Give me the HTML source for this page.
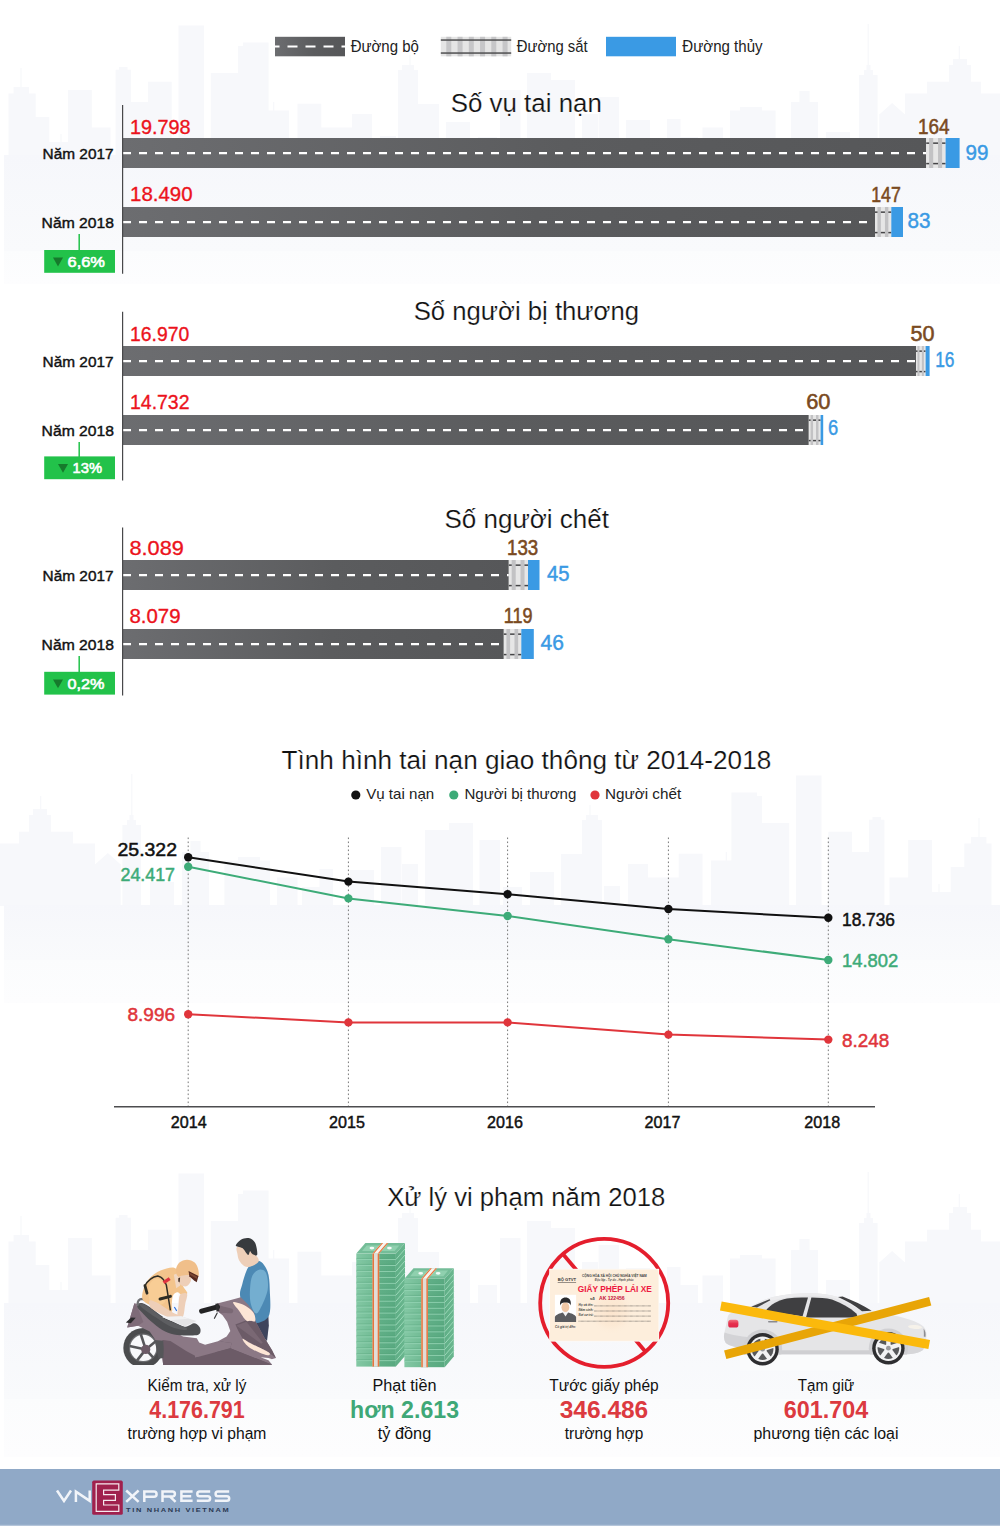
<!DOCTYPE html>
<html lang="vi"><head><meta charset="utf-8"><title>Tai nạn giao thông 2018</title>
<style>
html,body{margin:0;padding:0;background:#fff;}
body{width:1000px;height:1526px;overflow:hidden;font-family:"Liberation Sans",sans-serif;}
svg{display:block;font-family:"Liberation Sans",sans-serif;}
</style></head><body>
<svg width="1000" height="1526" viewBox="0 0 1000 1526">
<defs>
<linearGradient id="pg" x1="0" y1="0" x2="0" y2="1">
<stop offset="0" stop-color="#ffffff"/><stop offset="0.35" stop-color="#f8f9fb"/><stop offset="0.8" stop-color="#fafbfc"/><stop offset="1" stop-color="#ffffff"/>
</linearGradient>
<linearGradient id="rg" x1="0" y1="0" x2="1" y2="0">
<stop offset="0" stop-color="#6c6d70"/><stop offset="0.55" stop-color="#5b5c5e"/><stop offset="1" stop-color="#565759"/>
</linearGradient>
<pattern id="rail" width="9.1" height="30" patternUnits="userSpaceOnUse" x="0" y="0">
<rect width="9.1" height="30" fill="#e6e6e6"/>
<rect x="0" y="4.4" width="9.1" height="1.5" fill="#454547"/>
<rect x="0" y="24.85" width="9.1" height="1.5" fill="#454547"/>
<rect x="3.15" y="0" width="3.85" height="30" fill="#c2c2c4"/>
</pattern>
</defs>
<defs><g id="sky"><path d="M8.5,1304.0V1241.6H35.7V1304.0ZM13.6,1242.1V1235H29V1242.1ZM20.4,1242.6V1216H21.6V1242.6ZM35.7,1304.0V1265H49.3V1304.0ZM49.3,1304.0V1290H68V1304.0ZM60.4,1291V1282H61.6V1291ZM68,1304.0V1238H91.8V1304.0ZM91.8,1304.0V1275.6H110.5V1304.0ZM115.6,1304.0V1217.8H131V1304.0ZM119,1218.3V1215H127.5V1218.3ZM131,1304.0V1250H148V1304.0ZM148,1304.0V1229.7H171.7V1304.0ZM178.5,1304.0V1173.6H204V1304.0ZM210.8,1304.0V1221H238V1304.0ZM238,1304.0V1194H268.6V1304.0ZM243,1194.5V1190.6H268.6V1194.5ZM268.6,1304.0V1258.6H289V1304.0ZM273.09999999999997,1259.6V1250H274.3V1259.6ZM297.5,1304.0V1251.8H321.3V1304.0ZM321.3,1304.0V1275.6H352V1304.0ZM352,1304.0V1262H372V1304.0ZM380,1304.0V1284H396V1304.0ZM398,1304.0V1218H418V1304.0ZM402,1218.5V1213H414V1218.5ZM409.4,1219V1203H410.6V1219ZM418,1304.0V1252H439V1304.0ZM446,1304.0V1270H470V1304.0ZM478,1304.0V1285H497V1304.0ZM500,1304.0V1238H520.5V1304.0ZM527,1304.0V1221H551V1304.0ZM551,1304.0V1228H575V1304.0ZM582,1304.0V1262H598V1304.0ZM598.6,1304.0V1245H619V1304.0ZM626,1304.0V1268H650V1304.0ZM667,1304.0V1267H680.5V1304.0ZM680.5,1304.0V1285H698V1304.0ZM702.5,1304.0V1275.6H723V1304.0ZM730,1304.0V1258.6H775.6V1304.0ZM740,1259.1V1255H762V1259.1ZM791,1304.0V1250H818V1304.0ZM799.4,1250.5V1239H809.6V1250.5ZM826,1304.0V1280H850V1304.0ZM859,1304.0V1223H877.6V1304.0ZM864,1223.5V1218H873V1223.5ZM866.5,1223.5V1213H870.5V1223.5ZM867.6,1224V1172H868.8000000000001V1224ZM879.3,1304.0V1262H905V1304.0ZM879.3,1262.5L892.15,1251L905,1262.5ZM905,1304.0V1241.6H928V1304.0ZM927,1304.0V1229.7H949V1304.0ZM949,1304.0V1213H971V1304.0ZM953,1213.5V1207H967V1213.5ZM958.6999999999999,1214V1194H959.9V1214ZM971,1304.0V1229.7H981V1304.0ZM981,1304.0V1241.6H1000V1304.0Z" fill="#f7f8fb"/></g></defs>
<use href="#sky" transform="translate(0,-1148)"/>
<defs><linearGradient id="pg155a" gradientUnits="userSpaceOnUse" x1="0" y1="155" x2="0" y2="251"><stop offset="0" stop-color="#f6f7fb"/><stop offset="1" stop-color="#f9fafc"/></linearGradient><linearGradient id="pg155b" gradientUnits="userSpaceOnUse" x1="0" y1="251" x2="0" y2="284"><stop offset="0" stop-color="#fbfcfd"/><stop offset="1" stop-color="#fdfdfe"/></linearGradient></defs><rect x="4" y="155" width="996" height="96" fill="url(#pg155a)"/><rect x="4" y="251" width="996" height="33" fill="url(#pg155b)"/>
<use href="#sky" transform="translate(1000,-398) scale(-1,1)"/>
<defs><linearGradient id="pg905a" gradientUnits="userSpaceOnUse" x1="0" y1="905" x2="0" y2="960"><stop offset="0" stop-color="#f6f7fb"/><stop offset="1" stop-color="#f9fafc"/></linearGradient><linearGradient id="pg905b" gradientUnits="userSpaceOnUse" x1="0" y1="960" x2="0" y2="1003"><stop offset="0" stop-color="#fbfcfd"/><stop offset="1" stop-color="#fdfdfe"/></linearGradient></defs><rect x="4" y="905" width="996" height="55" fill="url(#pg905a)"/><rect x="4" y="960" width="996" height="43" fill="url(#pg905b)"/>
<use href="#sky"/>
<defs><linearGradient id="pg1303a" gradientUnits="userSpaceOnUse" x1="0" y1="1303" x2="0" y2="1399"><stop offset="0" stop-color="#f6f7fb"/><stop offset="1" stop-color="#f9fafc"/></linearGradient><linearGradient id="pg1303b" gradientUnits="userSpaceOnUse" x1="0" y1="1399" x2="0" y2="1457"><stop offset="0" stop-color="#fbfcfd"/><stop offset="1" stop-color="#fdfdfe"/></linearGradient></defs><rect x="4" y="1303" width="996" height="96" fill="url(#pg1303a)"/><rect x="4" y="1399" width="996" height="58" fill="url(#pg1303b)"/>
<rect x="275" y="36.8" width="70" height="19.5" fill="url(#rg)"/>
<line x1="275" y1="46.5" x2="345" y2="46.5" stroke="#fff" stroke-width="2" stroke-dasharray="10 8" stroke-dashoffset="5.5"/>
<rect x="440.8" y="36.8" width="70.4" height="19.5" fill="#e5e5e5"/>
<rect x="446.30" y="36.8" width="5" height="19.5" fill="#c6c6c8"/>
<rect x="457.55" y="36.8" width="5" height="19.5" fill="#c6c6c8"/>
<rect x="468.80" y="36.8" width="5" height="19.5" fill="#c6c6c8"/>
<rect x="480.05" y="36.8" width="5" height="19.5" fill="#c6c6c8"/>
<rect x="491.30" y="36.8" width="5" height="19.5" fill="#c6c6c8"/>
<rect x="502.55" y="36.8" width="5" height="19.5" fill="#c6c6c8"/>
<rect x="440.8" y="39.3" width="70.4" height="1.5" fill="#505052"/>
<rect x="440.8" y="52.3" width="70.4" height="1.5" fill="#505052"/>
<rect x="606" y="36.8" width="70" height="19.5" fill="#3a9ae4"/>
<text x="350.7" y="52" font-size="15.7" fill="#222" textLength="68.2" lengthAdjust="spacingAndGlyphs">Đường bộ</text>
<text x="516.8" y="52" font-size="15.7" fill="#222" textLength="70.9" lengthAdjust="spacingAndGlyphs">Đường sắt</text>
<text x="682.3" y="52" font-size="15.7" fill="#222" textLength="80.3" lengthAdjust="spacingAndGlyphs">Đường thủy</text>
<text x="450.7" y="112.3" font-size="25" fill="#111" textLength="151.2" lengthAdjust="spacingAndGlyphs" stroke="#fcfcfd" stroke-width="0.2">Số vụ tai nạn</text>
<rect x="122.6" y="138" width="803.6" height="30" fill="url(#rg)"/>
<line x1="123" y1="153.2" x2="926.2" y2="153.2" stroke="#fff" stroke-width="2.2" stroke-dasharray="8 8"/>
<rect x="926.2" y="138" width="19.4" height="30" fill="#e6e6e6"/>
<rect x="926.2" y="142.4" width="19.4" height="1.5" fill="#454547"/>
<rect x="926.2" y="162.85" width="19.4" height="1.5" fill="#454547"/>
<rect x="929.11" y="138" width="4.07" height="30" fill="#c2c2c4"/>
<rect x="938.03" y="138" width="4.07" height="30" fill="#c2c2c4"/>
<rect x="945.6" y="138" width="14.0" height="30" fill="#3a9ae4"/>
<text x="42.6" y="159.4" font-size="14.7" fill="#111" textLength="71" lengthAdjust="spacingAndGlyphs" stroke="#111" stroke-width="0.4">Năm 2017</text>
<text x="130" y="133.5" font-size="20.8" fill="#ec131c" textLength="60.6" lengthAdjust="spacingAndGlyphs" stroke="#ec131c" stroke-width="0.35">19.798</text>
<text x="918" y="133.8" font-size="21.6" fill="#7a4a21" textLength="31.6" lengthAdjust="spacingAndGlyphs" stroke="#7a4a21" stroke-width="0.55">164</text>
<text x="965.5" y="160" font-size="21.4" fill="#3a9ae4" textLength="22.9" lengthAdjust="spacingAndGlyphs" stroke="#3a9ae4" stroke-width="0.45">99</text>
<rect x="122.6" y="207" width="752.4" height="30" fill="url(#rg)"/>
<line x1="123" y1="222.2" x2="875.0" y2="222.2" stroke="#fff" stroke-width="2.2" stroke-dasharray="8 8"/>
<rect x="875" y="207" width="16.3" height="30" fill="#e6e6e6"/>
<rect x="875" y="211.4" width="16.3" height="1.5" fill="#454547"/>
<rect x="875" y="231.85" width="16.3" height="1.5" fill="#454547"/>
<rect x="877.45" y="207" width="3.42" height="30" fill="#c2c2c4"/>
<rect x="884.94" y="207" width="3.42" height="30" fill="#c2c2c4"/>
<rect x="891.3" y="207" width="11.700000000000045" height="30" fill="#3a9ae4"/>
<text x="41.6" y="228.4" font-size="14.7" fill="#111" textLength="72.4" lengthAdjust="spacingAndGlyphs" stroke="#111" stroke-width="0.4">Năm 2018</text>
<text x="130" y="201.4" font-size="20.8" fill="#ec131c" textLength="62.6" lengthAdjust="spacingAndGlyphs" stroke="#ec131c" stroke-width="0.35">18.490</text>
<text x="871.2" y="201.8" font-size="21.6" fill="#7a4a21" textLength="29.6" lengthAdjust="spacingAndGlyphs" stroke="#7a4a21" stroke-width="0.55">147</text>
<text x="907.5" y="228.2" font-size="21.4" fill="#3a9ae4" textLength="23.0" lengthAdjust="spacingAndGlyphs" stroke="#3a9ae4" stroke-width="0.45">83</text>
<line x1="122.6" y1="105" x2="122.6" y2="273.7" stroke="#48484a" stroke-width="1.2"/>
<line x1="79.2" y1="234" x2="79.2" y2="251" stroke="#22c24a" stroke-width="1.5"/>
<rect x="44.2" y="250" width="70.8" height="22.8" fill="#22c24a"/>
<path d="M53.0,257.6 h10 l-5,8.8z" fill="#167a2c"/>
<text x="67.5" y="267" font-size="15.2" fill="#fff" textLength="37.5" lengthAdjust="spacingAndGlyphs" stroke="#fff" stroke-width="0.6">6,6%</text>
<text x="413.7" y="320" font-size="25" fill="#111" textLength="225.3" lengthAdjust="spacingAndGlyphs" stroke="#fcfcfd" stroke-width="0.2">Số người bị thương</text>
<rect x="122.6" y="346" width="793.4" height="30" fill="url(#rg)"/>
<line x1="123" y1="361.2" x2="916.0" y2="361.2" stroke="#fff" stroke-width="2.2" stroke-dasharray="8 8"/>
<rect x="916" y="346" width="9.6" height="30" fill="#e6e6e6"/>
<rect x="916" y="350.4" width="9.6" height="1.5" fill="#454547"/>
<rect x="916" y="370.85" width="9.6" height="1.5" fill="#454547"/>
<rect x="917.44" y="346" width="2.02" height="30" fill="#c2c2c4"/>
<rect x="921.86" y="346" width="2.02" height="30" fill="#c2c2c4"/>
<rect x="925.6" y="346" width="4.0" height="30" fill="#3a9ae4"/>
<text x="42.6" y="367.4" font-size="14.7" fill="#111" textLength="71" lengthAdjust="spacingAndGlyphs" stroke="#111" stroke-width="0.4">Năm 2017</text>
<text x="130" y="340.6" font-size="20.8" fill="#ec131c" textLength="59.2" lengthAdjust="spacingAndGlyphs" stroke="#ec131c" stroke-width="0.35">16.970</text>
<text x="910.5" y="340.6" font-size="21.6" fill="#7a4a21" textLength="24.0" lengthAdjust="spacingAndGlyphs" stroke="#7a4a21" stroke-width="0.55">50</text>
<text x="935.2" y="366.5" font-size="21.4" fill="#3a9ae4" textLength="19.3" lengthAdjust="spacingAndGlyphs" stroke="#3a9ae4" stroke-width="0.45">16</text>
<rect x="122.6" y="415" width="686.1999999999999" height="30" fill="url(#rg)"/>
<line x1="123" y1="430.2" x2="808.8" y2="430.2" stroke="#fff" stroke-width="2.2" stroke-dasharray="8 8"/>
<rect x="808.8" y="415" width="11.8" height="30" fill="#e6e6e6"/>
<rect x="808.8" y="419.4" width="11.8" height="1.5" fill="#454547"/>
<rect x="808.8" y="439.85" width="11.8" height="1.5" fill="#454547"/>
<rect x="810.57" y="415" width="2.48" height="30" fill="#c2c2c4"/>
<rect x="816.0" y="415" width="2.48" height="30" fill="#c2c2c4"/>
<rect x="820.6" y="415" width="2.6000000000000227" height="30" fill="#3a9ae4"/>
<text x="41.6" y="436.4" font-size="14.7" fill="#111" textLength="72.4" lengthAdjust="spacingAndGlyphs" stroke="#111" stroke-width="0.4">Năm 2018</text>
<text x="130" y="408.9" font-size="20.8" fill="#ec131c" textLength="59.5" lengthAdjust="spacingAndGlyphs" stroke="#ec131c" stroke-width="0.35">14.732</text>
<text x="806.2" y="408.9" font-size="21.6" fill="#7a4a21" textLength="24.3" lengthAdjust="spacingAndGlyphs" stroke="#7a4a21" stroke-width="0.55">60</text>
<text x="828" y="435.2" font-size="21.4" fill="#3a9ae4" textLength="10.2" lengthAdjust="spacingAndGlyphs" stroke="#3a9ae4" stroke-width="0.45">6</text>
<line x1="122.6" y1="311.8" x2="122.6" y2="480.5" stroke="#48484a" stroke-width="1.2"/>
<line x1="79.2" y1="442" x2="79.2" y2="457.4" stroke="#22c24a" stroke-width="1.5"/>
<rect x="44.2" y="456.4" width="70.8" height="22.8" fill="#22c24a"/>
<path d="M58.0,464.0 h10 l-5,8.8z" fill="#167a2c"/>
<text x="72.5" y="473.4" font-size="15.2" fill="#fff" textLength="29.5" lengthAdjust="spacingAndGlyphs" stroke="#fff" stroke-width="0.6">13%</text>
<text x="444.5" y="528" font-size="25" fill="#111" textLength="164.5" lengthAdjust="spacingAndGlyphs" stroke="#fcfcfd" stroke-width="0.2">Số người chết</text>
<rect x="122.6" y="560" width="386.20000000000005" height="30" fill="url(#rg)"/>
<line x1="123" y1="575.2" x2="508.80000000000007" y2="575.2" stroke="#fff" stroke-width="2.2" stroke-dasharray="8 8"/>
<rect x="508.8" y="560" width="19.2" height="30" fill="#e6e6e6"/>
<rect x="508.8" y="564.4" width="19.2" height="1.5" fill="#454547"/>
<rect x="508.8" y="584.85" width="19.2" height="1.5" fill="#454547"/>
<rect x="511.68" y="560" width="4.03" height="30" fill="#c2c2c4"/>
<rect x="520.51" y="560" width="4.03" height="30" fill="#c2c2c4"/>
<rect x="528" y="560" width="11.5" height="30" fill="#3a9ae4"/>
<text x="42.6" y="581.4" font-size="14.7" fill="#111" textLength="71" lengthAdjust="spacingAndGlyphs" stroke="#111" stroke-width="0.4">Năm 2017</text>
<text x="129.5" y="555.1" font-size="20.8" fill="#ec131c" textLength="54.3" lengthAdjust="spacingAndGlyphs" stroke="#ec131c" stroke-width="0.35">8.089</text>
<text x="507" y="555.1" font-size="21.6" fill="#7a4a21" textLength="31.2" lengthAdjust="spacingAndGlyphs" stroke="#7a4a21" stroke-width="0.55">133</text>
<text x="547" y="581.4" font-size="21.4" fill="#3a9ae4" textLength="22.5" lengthAdjust="spacingAndGlyphs" stroke="#3a9ae4" stroke-width="0.45">45</text>
<rect x="122.6" y="629" width="381.20000000000005" height="30" fill="url(#rg)"/>
<line x1="123" y1="644.2" x2="503.80000000000007" y2="644.2" stroke="#fff" stroke-width="2.2" stroke-dasharray="8 8"/>
<rect x="503.8" y="629" width="17.5" height="30" fill="#e6e6e6"/>
<rect x="503.8" y="633.4" width="17.5" height="1.5" fill="#454547"/>
<rect x="503.8" y="653.85" width="17.5" height="1.5" fill="#454547"/>
<rect x="506.43" y="629" width="3.67" height="30" fill="#c2c2c4"/>
<rect x="514.48" y="629" width="3.67" height="30" fill="#c2c2c4"/>
<rect x="521.3" y="629" width="12.5" height="30" fill="#3a9ae4"/>
<text x="41.6" y="650.4" font-size="14.7" fill="#111" textLength="72.4" lengthAdjust="spacingAndGlyphs" stroke="#111" stroke-width="0.4">Năm 2018</text>
<text x="129.5" y="622.7" font-size="20.8" fill="#ec131c" textLength="51.0" lengthAdjust="spacingAndGlyphs" stroke="#ec131c" stroke-width="0.35">8.079</text>
<text x="503.8" y="623.3" font-size="21.6" fill="#7a4a21" textLength="28.7" lengthAdjust="spacingAndGlyphs" stroke="#7a4a21" stroke-width="0.55">119</text>
<text x="540.5" y="650.2" font-size="21.4" fill="#3a9ae4" textLength="23.3" lengthAdjust="spacingAndGlyphs" stroke="#3a9ae4" stroke-width="0.45">46</text>
<line x1="122.6" y1="527.5" x2="122.6" y2="695.5" stroke="#48484a" stroke-width="1.2"/>
<line x1="79.2" y1="656" x2="79.2" y2="672.8" stroke="#22c24a" stroke-width="1.5"/>
<rect x="44.2" y="671.8" width="70.8" height="22.8" fill="#22c24a"/>
<path d="M53.0,679.4 h10 l-5,8.8z" fill="#167a2c"/>
<text x="67.5" y="688.8" font-size="15.2" fill="#fff" textLength="37.0" lengthAdjust="spacingAndGlyphs" stroke="#fff" stroke-width="0.6">0,2%</text>
<text x="281.6" y="768.7" font-size="25" fill="#111" textLength="489.6" lengthAdjust="spacingAndGlyphs" stroke="#fcfcfd" stroke-width="0.2">Tình hình tai nạn giao thông từ 2014-2018</text>
<circle cx="355.8" cy="795" r="4.6" fill="#111"/>
<text x="366.2" y="798.8" font-size="14.8" fill="#222" textLength="68" lengthAdjust="spacingAndGlyphs">Vụ tai nạn</text>
<circle cx="453.8" cy="795" r="4.6" fill="#3dab78"/>
<text x="464.5" y="798.8" font-size="14.8" fill="#222" textLength="111.8" lengthAdjust="spacingAndGlyphs">Người bị thương</text>
<circle cx="595" cy="795" r="4.6" fill="#e0353b"/>
<text x="605" y="798.8" font-size="14.8" fill="#222" textLength="76.2" lengthAdjust="spacingAndGlyphs">Người chết</text>
<line x1="188.2" y1="837.5" x2="188.2" y2="1106" stroke="#777" stroke-width="1" stroke-dasharray="1.6 2.4"/>
<line x1="348.4" y1="837.5" x2="348.4" y2="1106" stroke="#777" stroke-width="1" stroke-dasharray="1.6 2.4"/>
<line x1="507.6" y1="837.5" x2="507.6" y2="1106" stroke="#777" stroke-width="1" stroke-dasharray="1.6 2.4"/>
<line x1="668.4" y1="837.5" x2="668.4" y2="1106" stroke="#777" stroke-width="1" stroke-dasharray="1.6 2.4"/>
<line x1="828.3" y1="837.5" x2="828.3" y2="1106" stroke="#777" stroke-width="1" stroke-dasharray="1.6 2.4"/>
<line x1="114" y1="1106.8" x2="875" y2="1106.8" stroke="#4d4d4f" stroke-width="1.5"/>
<polyline points="188.2,857.2 348.4,881.6 507.6,894.2 668.4,909 828.3,917.8" fill="none" stroke="#111" stroke-width="2"/>
<circle cx="188.2" cy="857.2" r="4.2" fill="#111"/>
<circle cx="348.4" cy="881.6" r="4.2" fill="#111"/>
<circle cx="507.6" cy="894.2" r="4.2" fill="#111"/>
<circle cx="668.4" cy="909" r="4.2" fill="#111"/>
<circle cx="828.3" cy="917.8" r="4.2" fill="#111"/>
<polyline points="188.2,866.8 348.4,898.4 507.6,916 668.4,939.2 828.3,960" fill="none" stroke="#3dab78" stroke-width="2"/>
<circle cx="188.2" cy="866.8" r="4.2" fill="#3dab78"/>
<circle cx="348.4" cy="898.4" r="4.2" fill="#3dab78"/>
<circle cx="507.6" cy="916" r="4.2" fill="#3dab78"/>
<circle cx="668.4" cy="939.2" r="4.2" fill="#3dab78"/>
<circle cx="828.3" cy="960" r="4.2" fill="#3dab78"/>
<polyline points="188.2,1014.2 348.4,1022.4 507.6,1022.4 668.4,1034.6 828.3,1039.6" fill="none" stroke="#e0353b" stroke-width="2"/>
<circle cx="188.2" cy="1014.2" r="4.2" fill="#e0353b"/>
<circle cx="348.4" cy="1022.4" r="4.2" fill="#e0353b"/>
<circle cx="507.6" cy="1022.4" r="4.2" fill="#e0353b"/>
<circle cx="668.4" cy="1034.6" r="4.2" fill="#e0353b"/>
<circle cx="828.3" cy="1039.6" r="4.2" fill="#e0353b"/>
<text x="188.7" y="1127.8" font-size="16" fill="#111" text-anchor="middle" textLength="35.8" lengthAdjust="spacingAndGlyphs" stroke="#111" stroke-width="0.45">2014</text>
<text x="347" y="1127.8" font-size="16" fill="#111" text-anchor="middle" textLength="35.8" lengthAdjust="spacingAndGlyphs" stroke="#111" stroke-width="0.45">2015</text>
<text x="505" y="1127.8" font-size="16" fill="#111" text-anchor="middle" textLength="35.8" lengthAdjust="spacingAndGlyphs" stroke="#111" stroke-width="0.45">2016</text>
<text x="662.5" y="1127.8" font-size="16" fill="#111" text-anchor="middle" textLength="35.8" lengthAdjust="spacingAndGlyphs" stroke="#111" stroke-width="0.45">2017</text>
<text x="822.2" y="1127.8" font-size="16" fill="#111" text-anchor="middle" textLength="35.8" lengthAdjust="spacingAndGlyphs" stroke="#111" stroke-width="0.45">2018</text>
<text x="117.5" y="855.6" font-size="18.5" fill="#111" textLength="59.5" lengthAdjust="spacingAndGlyphs" stroke="#111" stroke-width="0.5">25.322</text>
<text x="120.5" y="881.2" font-size="18.5" fill="#3dab78" textLength="54.5" lengthAdjust="spacingAndGlyphs" stroke="#3dab78" stroke-width="0.5">24.417</text>
<text x="127.5" y="1020.8" font-size="18.5" fill="#e0353b" textLength="47.5" lengthAdjust="spacingAndGlyphs" stroke="#e0353b" stroke-width="0.5">8.996</text>
<text x="842" y="925.6" font-size="18.5" fill="#111" textLength="53" lengthAdjust="spacingAndGlyphs" stroke="#111" stroke-width="0.5">18.736</text>
<text x="842" y="967.4" font-size="18.5" fill="#3dab78" textLength="56.2" lengthAdjust="spacingAndGlyphs" stroke="#3dab78" stroke-width="0.5">14.802</text>
<text x="842" y="1047" font-size="18.5" fill="#e0353b" textLength="47.2" lengthAdjust="spacingAndGlyphs" stroke="#e0353b" stroke-width="0.5">8.248</text>
<text x="387.2" y="1206" font-size="25" fill="#111" textLength="278" lengthAdjust="spacingAndGlyphs" stroke="#fcfcfd" stroke-width="0.2">Xử lý vi phạm năm 2018</text>
<text x="197" y="1390.6" font-size="15.8" fill="#111" text-anchor="middle" textLength="98.8" lengthAdjust="spacingAndGlyphs">Kiểm tra, xử lý</text>
<text x="197" y="1418.3" font-size="23.4" fill="#dc3a40" text-anchor="middle" font-weight="bold" textLength="95.5" lengthAdjust="spacingAndGlyphs">4.176.791</text>
<text x="197" y="1438.8" font-size="15.8" fill="#111" text-anchor="middle" textLength="138.8" lengthAdjust="spacingAndGlyphs">trường hợp vi phạm</text>
<text x="404.5" y="1390.6" font-size="15.8" fill="#111" text-anchor="middle" textLength="64" lengthAdjust="spacingAndGlyphs">Phạt tiền</text>
<text x="404.5" y="1418.3" font-size="23.4" fill="#3fa877" text-anchor="middle" font-weight="bold" textLength="109" lengthAdjust="spacingAndGlyphs">hơn 2.613</text>
<text x="404.5" y="1438.8" font-size="15.8" fill="#111" text-anchor="middle" textLength="53.5" lengthAdjust="spacingAndGlyphs">tỷ đồng</text>
<text x="604" y="1390.6" font-size="15.8" fill="#111" text-anchor="middle" textLength="109.5" lengthAdjust="spacingAndGlyphs">Tước giấy phép</text>
<text x="604" y="1418.3" font-size="23.4" fill="#dc3a40" text-anchor="middle" font-weight="bold" textLength="88.5" lengthAdjust="spacingAndGlyphs">346.486</text>
<text x="604" y="1438.8" font-size="15.8" fill="#111" text-anchor="middle" textLength="78.5" lengthAdjust="spacingAndGlyphs">trường hợp</text>
<text x="826" y="1390.6" font-size="15.8" fill="#111" text-anchor="middle" textLength="56.5" lengthAdjust="spacingAndGlyphs">Tạm giữ</text>
<text x="826" y="1418.3" font-size="23.4" fill="#dc3a40" text-anchor="middle" font-weight="bold" textLength="84.5" lengthAdjust="spacingAndGlyphs">601.704</text>
<text x="826" y="1438.8" font-size="15.8" fill="#111" text-anchor="middle" textLength="145" lengthAdjust="spacingAndGlyphs">phương tiện các loại</text>
<g id="bike"><defs><clipPath id="bclip"><rect x="100" y="1220" width="200" height="144.9"/></clipPath></defs><g clip-path="url(#bclip)">
<path d="M249.13,1320.83 L268.39,1316.24 L268.85,1325.41 L267.02,1341.01 L259.22,1333.67 L250.05,1322.66 Z" fill="#3e445c" />
<path d="M248.67,1266.7 C251.50,1262.85 256.09,1260.25 259.22,1261.01 C262.36,1261.77 265.72,1266.51 267.48,1271.28 C269.24,1276.05 269.62,1282.06 269.77,1289.63 C269.92,1297.20 271.68,1311.35 268.39,1316.7 C265.10,1322.05 254.71,1324.88 250.05,1321.74 C245.39,1318.61 241.71,1304.16 240.41,1297.89 C239.11,1291.62 240.87,1289.33 242.25,1284.13 C243.63,1278.93 245.84,1270.55 248.67,1266.7 Z" fill="#4c89b4" />
<path d="M252.34,1275.87 C253.87,1272.69 256.93,1270.09 259.22,1269.63 C261.51,1269.17 264.69,1269.79 266.1,1273.12 C267.51,1276.45 268.65,1283.67 267.66,1289.63 C266.67,1295.59 262.24,1305.00 260.14,1308.9 C258.04,1312.80 256.70,1314.10 255.09,1313.03 C253.48,1311.96 251.34,1306.53 250.5,1302.48 C249.66,1298.43 249.74,1293.15 250.05,1288.72 C250.36,1284.29 250.81,1279.05 252.34,1275.87 Z" fill="#74aed0" />
<path d="M236.74,1247.43 C237.63,1246.06 239.88,1244.68 242.71,1245.6 C245.54,1246.52 251.05,1250.34 253.72,1252.94 C256.39,1255.54 259.37,1258.90 258.76,1261.19 C258.15,1263.48 252.50,1265.90 250.05,1266.7 C247.60,1267.50 245.92,1267.03 244.08,1265.96 C242.25,1264.89 240.16,1262.30 239.04,1260.28 C237.92,1258.26 237.77,1255.99 237.39,1253.85 C237.01,1251.71 235.85,1248.81 236.74,1247.43 Z" fill="#eecfb8" />
<path d="M235.83,1245.14 C236.29,1243.96 238.73,1240.81 240.87,1239.63 C243.01,1238.45 246.30,1237.53 248.67,1238.07 C251.04,1238.61 253.67,1240.06 255.09,1242.84 C256.51,1245.62 257.66,1252.90 257.2,1254.77 C256.74,1256.64 253.53,1254.62 252.34,1254.04 C251.15,1253.46 250.77,1251.13 250.05,1251.28 C249.33,1251.43 249.25,1255.44 248.03,1254.95 C246.81,1254.46 244.36,1249.72 242.71,1248.35 C241.06,1246.97 239.27,1247.24 238.12,1246.7 C236.97,1246.16 235.37,1246.32 235.83,1245.14 Z" fill="#383b3e" />
<circle cx="143.22" cy="1347.92" r="19.9" fill="#4b4c4e"/>
<circle cx="143.22" cy="1347.92" r="14.299999999999999" fill="#6b6c6f"/>
<circle cx="143.22" cy="1347.92" r="13.099999999999998" fill="#f8f9fb"/>
<line x1="145.72" y1="1349.42" x2="140.81" y2="1334.23" stroke="#56575a" stroke-width="2.6"/>
<line x1="145.72" y1="1349.42" x2="155.49" y2="1341.39" stroke="#56575a" stroke-width="2.6"/>
<line x1="145.72" y1="1349.42" x2="153.22" y2="1357.58" stroke="#56575a" stroke-width="2.6"/>
<line x1="145.72" y1="1349.42" x2="137.13" y2="1360.41" stroke="#56575a" stroke-width="2.6"/>
<line x1="145.72" y1="1349.42" x2="129.46" y2="1345.99" stroke="#56575a" stroke-width="2.6"/>
<circle cx="145.72" cy="1349.42" r="4.6" fill="#6c5b67"/>
<path d="M134.4,1303.28 L138.9,1304.0 L156.0,1322.0 L183.0,1336.4 L196.83,1338.26 L199.13,1342.39 L205.09,1344.68 L217.94,1341.19 L226.65,1336.42 L230.32,1330.92 L227.11,1321.74 L222.52,1315.32 L217.48,1311.19 L217.02,1303.39 L229.86,1300.18 L240.87,1297.25 L247.75,1304.31 L254.17,1312.57 L255.73,1321.74 L264.72,1338.26 L272.06,1350.18 L275.92,1357.98 L268.39,1360.28 L272.25,1364.86 L174.0,1365.2 L163.2,1365.2 L162.3,1357.55 L156.0,1340.9 L149.7,1331.45 L138.0,1325.78 L127.2,1327.58 Z" fill="#8b7885" />
<path d="M134.4,1303.28 L137.55,1307.6 L143.4,1322.0 L138.0,1325.78 L127.2,1327.58 Z" fill="#7e6b78" />
<path d="M163.2,1340.0 L170.4,1340.9 L186.6,1351.25 L197.4,1357.1 L199.2,1359.35 L204.6,1358.45 L210.0,1363.85 L220.69,1341.47 L231.7,1343.03 L230.32,1348.17 L272.25,1364.86 L174.0,1365.2 L163.2,1365.2 L162.3,1357.55 L157.8,1343.6 Z" fill="#6c5b67" />
<path d="M220.69,1341.47 L231.7,1343.03 L230.32,1348.17 L195.0,1357.71 L195.0,1352.02 Z" fill="#8b7885" />
<path d="M195.0,1357.71 L230.32,1348.17 L272.25,1364.86 L195.0,1364.86 Z" fill="#6c5b67" />
<path d="M154.65,1340.0 L163.2,1340.72 L163.74,1349.0 L163.38,1358.0 L158.52,1358.72 L156.45,1349.0 Z" fill="#555659" />
<path d="M235.37,1324.5 L246.38,1320.37 L255.73,1321.74 L264.72,1338.26 L272.06,1350.18 L275.92,1357.98 L269.31,1352.94 L253.72,1344.68 L242.71,1338.72 L238.12,1330.46 Z" fill="#6c5b67" />
<path d="M236.28,1325.41 L246.38,1321.74 L262.89,1342.84 L261.06,1343.76 Z" fill="#7a6874" />
<path d="M233.07,1302.48 C233.38,1301.33 238.27,1302.93 240.87,1303.85 C243.47,1304.77 246.45,1306.30 248.67,1307.98 C250.89,1309.66 253.10,1311.77 254.17,1313.94 C255.24,1316.11 255.78,1319.86 255.09,1321.01 C254.40,1322.16 251.58,1320.94 250.05,1320.83 C248.52,1320.72 247.75,1322.05 245.92,1320.37 C244.08,1318.69 241.18,1313.71 239.04,1310.73 C236.90,1307.75 232.76,1303.63 233.07,1302.48 Z" fill="#fde6d6" />
<path d="M242.71,1338.72 C243.55,1338.67 246.99,1341.42 250.05,1343.03 C253.11,1344.63 257.82,1346.67 261.06,1348.35 C264.30,1350.03 268.40,1351.96 269.5,1353.12 C270.60,1354.28 269.37,1355.43 267.66,1355.32 C265.95,1355.21 262.16,1353.72 259.22,1352.48 C256.29,1351.24 252.42,1349.42 250.05,1347.89 C247.68,1346.36 246.22,1344.83 245.0,1343.3 C243.78,1341.77 241.87,1338.77 242.71,1338.72 Z" fill="#fde6d6" />
<path d="M260.6,1357.34 L268.39,1357.98 L272.98,1359.54 L268.39,1360.28 Z" fill="#fbfbfc" />
<path d="M219.04,1305.69 C219.99,1304.77 223.02,1306.45 225.28,1307.06 C227.54,1307.67 231.46,1308.36 232.61,1309.36 C233.76,1310.36 233.38,1312.42 232.16,1313.03 C230.94,1313.64 227.38,1313.11 225.28,1313.03 C223.19,1312.95 220.63,1313.79 219.59,1312.57 C218.55,1311.35 218.09,1306.61 219.04,1305.69 Z" fill="#7a6874" />
<path d="M138.0,1303.82 C138.82,1303.10 140.40,1302.65 142.5,1303.28 C144.60,1303.91 147.15,1305.30 150.6,1307.6 C154.05,1309.89 159.00,1314.50 163.2,1317.05 C167.40,1319.60 172.05,1321.30 175.8,1322.9 C179.55,1324.51 182.70,1326.61 185.7,1326.68 C188.70,1326.76 191.70,1323.53 193.8,1323.35 C195.90,1323.17 197.18,1324.47 198.3,1325.6 C199.43,1326.72 200.55,1328.57 200.55,1330.1 C200.55,1331.63 200.62,1333.88 198.3,1334.78 C195.98,1335.68 190.65,1335.53 186.6,1335.5 C182.55,1335.47 178.05,1335.50 174.0,1334.6 C169.95,1333.70 166.20,1332.35 162.3,1330.1 C158.40,1327.85 154.05,1324.10 150.6,1321.1 C147.15,1318.10 143.77,1314.35 141.6,1312.1 C139.43,1309.85 138.15,1308.98 137.55,1307.6 C136.95,1306.22 137.18,1304.54 138.0,1303.82 Z" fill="#4e4f52" />
<path d="M139.35,1304.45 C139.20,1303.55 141.53,1303.33 143.4,1304.0 C145.28,1304.67 147.30,1306.17 150.6,1308.5 C153.90,1310.83 159.00,1315.40 163.2,1317.95 C167.40,1320.50 171.98,1322.15 175.8,1323.8 C179.62,1325.45 184.65,1326.80 186.15,1327.85 C187.65,1328.90 187.43,1330.32 184.8,1330.1 C182.18,1329.88 175.20,1328.60 170.4,1326.5 C165.60,1324.40 160.35,1320.35 156.0,1317.5 C151.65,1314.65 147.08,1311.58 144.3,1309.4 C141.53,1307.23 139.50,1305.35 139.35,1304.45 Z" fill="#5d5e61" />
<path d="M137.73,1304.9 Q137.1,1299.05 142.5,1298.87 L148.35,1301.3" fill="none" stroke="#6f7073" stroke-width="2.2" stroke-linecap="round"/>
<path d="M125.85,1322.45 L131.25,1317.5 L135.75,1317.68 L130.8,1323.35 Z" fill="#2b2b2d" />
<path d="M142.5,1299.32 C141.48,1296.62 142.46,1292.15 143.58,1288.7 C144.71,1285.25 146.43,1281.65 149.25,1278.62 C152.07,1275.59 156.38,1272.35 160.5,1270.52 C164.62,1268.69 171.00,1267.01 174.0,1267.64 C177.00,1268.27 177.00,1271.24 178.5,1274.3 C180.00,1277.36 181.53,1282.88 183.0,1286.0 C184.47,1289.12 187.32,1291.34 187.32,1293.02 C187.32,1294.70 184.62,1296.20 183.0,1296.08 C181.38,1295.96 179.25,1292.40 177.6,1292.3 C175.95,1292.19 174.07,1293.50 173.1,1295.45 C172.12,1297.40 172.05,1301.22 171.75,1304.0 C171.45,1306.78 173.18,1311.20 171.3,1312.1 C169.43,1313.00 164.10,1310.60 160.5,1309.4 C156.90,1308.20 152.70,1306.58 149.7,1304.9 C146.70,1303.22 143.52,1302.02 142.5,1299.32 Z" fill="#f3c48c" />
<path d="M149.25,1286.0 C150.22,1282.40 153.23,1279.55 155.55,1278.8 C157.88,1278.05 161.32,1279.25 163.2,1281.5 C165.07,1283.75 166.65,1288.70 166.8,1292.3 C166.95,1295.90 165.90,1301.00 164.1,1303.1 C162.30,1305.20 158.40,1305.35 156.0,1304.9 C153.60,1304.45 150.82,1303.55 149.7,1300.4 C148.57,1297.25 148.28,1289.60 149.25,1286.0 Z" fill="#f8cd95" />
<path d="M173.82,1274.75 L177.6,1273.22 L180.12,1285.55 L176.25,1288.25 Z" fill="#f1d8c4" />
<path d="M149.7,1300.4 C150.75,1299.50 154.35,1301.30 157.8,1303.1 C161.25,1304.90 166.73,1309.03 170.4,1311.2 C174.07,1313.38 178.50,1314.73 179.85,1316.15 C181.20,1317.58 180.53,1319.60 178.5,1319.75 C176.47,1319.90 172.20,1318.92 167.7,1317.05 C163.20,1315.17 154.50,1311.28 151.5,1308.5 C148.50,1305.72 148.65,1301.30 149.7,1300.4 Z" fill="#eecfb8" />
<path d="M180.12,1295.0 C181.55,1293.17 186.20,1292.42 187.05,1293.92 C187.91,1295.42 185.93,1300.22 185.25,1304.0 C184.57,1307.78 184.28,1314.42 183.0,1316.6 C181.72,1318.77 178.35,1319.00 177.6,1317.05 C176.85,1315.10 178.08,1308.58 178.5,1304.9 C178.92,1301.23 178.69,1296.83 180.12,1295.0 Z" fill="#eecfb8" />
<path d="M175.98,1269.35 C176.28,1267.10 177.56,1264.20 179.4,1262.6 C181.25,1260.99 184.50,1259.72 187.05,1259.72 C189.60,1259.72 192.82,1260.92 194.7,1262.6 C196.57,1264.28 197.76,1267.40 198.3,1269.8 C198.84,1272.20 199.29,1276.10 197.94,1277.0 C196.59,1277.90 192.69,1275.20 190.2,1275.2 C187.71,1275.20 185.10,1276.85 183.0,1277.0 C180.90,1277.15 178.77,1277.38 177.6,1276.1 C176.43,1274.82 175.68,1271.60 175.98,1269.35 Z" fill="#f0bf8a" />
<path d="M178.32,1277.0 C179.44,1276.03 182.90,1275.42 184.8,1275.2 C186.71,1274.98 188.70,1274.83 189.75,1275.65 C190.80,1276.48 191.55,1278.43 191.1,1280.15 C190.65,1281.88 188.70,1285.14 187.05,1286.0 C185.40,1286.86 182.70,1286.11 181.2,1285.28 C179.70,1284.45 178.53,1282.43 178.05,1281.05 C177.57,1279.67 177.19,1277.97 178.32,1277.0 Z" fill="#eecfb8" />
<path d="M178.32,1278.35 L180.12,1277.45 L179.58,1282.4 L178.32,1281.5 Z" fill="#3a2a22" />
<path d="M188.58,1270.88 L198.48,1275.92 L196.68,1282.22 L193.8,1280.15 L189.3,1276.28 Z" fill="#55281e" />
<path d="M189.3,1272.5 L197.4,1276.64 L196.68,1278.8 L189.75,1274.75 Z" fill="#7a4632" />
<path d="M144.75,1286.0 Q149.7,1277.0 157.8,1275.92 Q164.1,1277.45 166.35,1285.1 L170.4,1310.3" fill="none" stroke="#2e2d25" stroke-width="1.5"/>
<line x1="160.05" y1="1299.05" x2="170.4" y2="1296.35" stroke="#2e2d25" stroke-width="3" stroke-linecap="round"/>
<line x1="144.93" y1="1285.55" x2="147.0" y2="1293.2" stroke="#2e2d25" stroke-width="2.8" stroke-linecap="round"/>
<line x1="163.56" y1="1282.58" x2="169.68" y2="1278.62" stroke="#df3340" stroke-width="3.4"/>
<line x1="174.36" y1="1307.06" x2="176.7" y2="1310.84" stroke="#2a6fe0" stroke-width="1.1"/>
<path d="M162.3,1317.05 L181.2,1316.15 L196.5,1321.1 L184.8,1326.5 Z" fill="#e4e4e6" />
<path d="M162.3,1317.05 L181.2,1316.15 L188.4,1318.85 L170.4,1320.2 Z" fill="#f1f1f2" />
<line x1="201.61" y1="1311.19" x2="217.48" y2="1306.88" stroke="#232324" stroke-width="5" stroke-linecap="round"/>
<path d="M215.37,1303.85 L218.39,1303.39 L219.31,1310.73 L216.56,1311.65 Z" fill="#2c2c2e" />
<line x1="217.2" y1="1313.03" x2="214.45" y2="1318.26" stroke="#3a3a3c" stroke-width="1.2" stroke-linecap="round"/>
</g></g>
<g id="money">
<defs><linearGradient id="mfa" x1="0" y1="0" x2="1" y2="0"><stop offset="0" stop-color="#83c8a4"/><stop offset="0.38" stop-color="#74bd97"/><stop offset="0.5" stop-color="#62b088"/><stop offset="1" stop-color="#58a980"/></linearGradient><linearGradient id="msa" x1="0" y1="0" x2="1" y2="0"><stop offset="0" stop-color="#5fae86"/><stop offset="1" stop-color="#6ab78f"/></linearGradient></defs><path d="M395.9,1253.6 L405.0,1243.0 L405.0,1356.0 L395.9,1366.6 Z" fill="url(#msa)"/><rect x="356.3" y="1253.6" width="39.599999999999966" height="113.0" fill="url(#mfa)"/><path d="M356.3,1259.55H395.9M356.3,1265.49H395.9M356.3,1271.44H395.9M356.3,1277.39H395.9M356.3,1283.34H395.9M356.3,1289.28H395.9M356.3,1295.23H395.9M356.3,1301.18H395.9M356.3,1307.13H395.9M356.3,1313.07H395.9M356.3,1319.02H395.9M356.3,1324.97H395.9M356.3,1330.92H395.9M356.3,1336.86H395.9M356.3,1342.81H395.9M356.3,1348.76H395.9M356.3,1354.71H395.9M356.3,1360.65H395.9" stroke="#93d3b2" stroke-width="0.9" fill="none"/><path d="M356.3,1258.45H395.9M356.3,1264.39H395.9M356.3,1270.34H395.9M356.3,1276.29H395.9M356.3,1282.24H395.9M356.3,1288.18H395.9M356.3,1294.13H395.9M356.3,1300.08H395.9M356.3,1306.03H395.9M356.3,1311.97H395.9M356.3,1317.92H395.9M356.3,1323.87H395.9M356.3,1329.82H395.9M356.3,1335.76H395.9M356.3,1341.71H395.9M356.3,1347.66H395.9M356.3,1353.61H395.9M356.3,1359.55H395.9" stroke="#4f9f77" stroke-width="0.7" fill="none" opacity="0.45"/><path d="M395.9,1259.55L405.0,1248.95M395.9,1265.49L405.0,1254.89M395.9,1271.44L405.0,1260.84M395.9,1277.39L405.0,1266.79M395.9,1283.34L405.0,1272.74M395.9,1289.28L405.0,1278.68M395.9,1295.23L405.0,1284.63M395.9,1301.18L405.0,1290.58M395.9,1307.13L405.0,1296.53M395.9,1313.07L405.0,1302.47M395.9,1319.02L405.0,1308.42M395.9,1324.97L405.0,1314.37M395.9,1330.92L405.0,1320.32M395.9,1336.86L405.0,1326.26M395.9,1342.81L405.0,1332.21M395.9,1348.76L405.0,1338.16M395.9,1354.71L405.0,1344.11M395.9,1360.65L405.0,1350.05" stroke="#9ad8b8" stroke-width="1" fill="none"/><path d="M356.3,1253.6 L395.9,1253.6 L405.0,1243.0 L365.40000000000003,1243.0 Z" fill="#74bd98"/><path d="M362.0,1251.0 L394.59999999999997,1251.0 L399.3,1245.4 L366.70000000000005,1245.4 Z" fill="#8fd0ae"/><ellipse cx="371.9" cy="1248.1" rx="2.4" ry="1.4" fill="#f4fbf7"/><ellipse cx="389.4" cy="1248.1" rx="2.4" ry="1.4" fill="#f4fbf7"/><rect x="372.5" y="1253.6" width="6.699999999999989" height="113.0" fill="#e2ddd7"/><rect x="372.5" y="1253.6" width="1.5" height="113.0" fill="#e8743c"/><rect x="377.7" y="1253.6" width="1.5" height="113.0" fill="#e8743c"/><path d="M372.5,1253.6 L379.2,1253.6 L388.3,1243.0 L381.6,1243.0 Z" fill="#f7f4f0"/><path d="M372.5,1253.6 L374.0,1253.6 L383.1,1243.0 L381.6,1243.0 Z" fill="#e8743c"/><path d="M377.7,1253.6 L379.2,1253.6 L388.3,1243.0 L386.8,1243.0 Z" fill="#e8743c"/>
<defs><linearGradient id="mfb" x1="0" y1="0" x2="1" y2="0"><stop offset="0" stop-color="#83c8a4"/><stop offset="0.38" stop-color="#74bd97"/><stop offset="0.5" stop-color="#62b088"/><stop offset="1" stop-color="#58a980"/></linearGradient><linearGradient id="msb" x1="0" y1="0" x2="1" y2="0"><stop offset="0" stop-color="#5fae86"/><stop offset="1" stop-color="#6ab78f"/></linearGradient></defs><path d="M444.7,1278.8 L453.8,1268.2 L453.8,1356.6000000000001 L444.7,1367.2 Z" fill="url(#msb)"/><rect x="404.4" y="1278.8" width="40.30000000000001" height="88.40000000000009" fill="url(#mfb)"/><path d="M404.4,1284.69H444.7M404.4,1290.59H444.7M404.4,1296.48H444.7M404.4,1302.37H444.7M404.4,1308.27H444.7M404.4,1314.16H444.7M404.4,1320.05H444.7M404.4,1325.95H444.7M404.4,1331.84H444.7M404.4,1337.73H444.7M404.4,1343.63H444.7M404.4,1349.52H444.7M404.4,1355.41H444.7M404.4,1361.31H444.7" stroke="#93d3b2" stroke-width="0.9" fill="none"/><path d="M404.4,1283.59H444.7M404.4,1289.49H444.7M404.4,1295.38H444.7M404.4,1301.27H444.7M404.4,1307.17H444.7M404.4,1313.06H444.7M404.4,1318.95H444.7M404.4,1324.85H444.7M404.4,1330.74H444.7M404.4,1336.63H444.7M404.4,1342.53H444.7M404.4,1348.42H444.7M404.4,1354.31H444.7M404.4,1360.21H444.7" stroke="#4f9f77" stroke-width="0.7" fill="none" opacity="0.45"/><path d="M444.7,1284.69L453.8,1274.09M444.7,1290.59L453.8,1279.99M444.7,1296.48L453.8,1285.88M444.7,1302.37L453.8,1291.77M444.7,1308.27L453.8,1297.67M444.7,1314.16L453.8,1303.56M444.7,1320.05L453.8,1309.45M444.7,1325.95L453.8,1315.35M444.7,1331.84L453.8,1321.24M444.7,1337.73L453.8,1327.13M444.7,1343.63L453.8,1333.03M444.7,1349.52L453.8,1338.92M444.7,1355.41L453.8,1344.81M444.7,1361.31L453.8,1350.71" stroke="#9ad8b8" stroke-width="1" fill="none"/><path d="M404.4,1278.8 L444.7,1278.8 L453.8,1268.2 L413.5,1268.2 Z" fill="#74bd98"/><path d="M410.09999999999997,1276.2 L443.4,1276.2 L448.1,1270.6000000000001 L414.8,1270.6000000000001 Z" fill="#8fd0ae"/><ellipse cx="420.7" cy="1273.3" rx="2.4" ry="1.4" fill="#f4fbf7"/><ellipse cx="438.09999999999997" cy="1273.3" rx="2.4" ry="1.4" fill="#f4fbf7"/><rect x="421.3" y="1278.8" width="6.599999999999966" height="88.40000000000009" fill="#e2ddd7"/><rect x="421.3" y="1278.8" width="1.5" height="88.40000000000009" fill="#e8743c"/><rect x="426.4" y="1278.8" width="1.5" height="88.40000000000009" fill="#e8743c"/><path d="M421.3,1278.8 L427.9,1278.8 L437.0,1268.2 L430.40000000000003,1268.2 Z" fill="#f7f4f0"/><path d="M421.3,1278.8 L422.8,1278.8 L431.90000000000003,1268.2 L430.40000000000003,1268.2 Z" fill="#e8743c"/><path d="M426.4,1278.8 L427.9,1278.8 L437.0,1268.2 L435.5,1268.2 Z" fill="#e8743c"/>
</g>
<g id="card">
<line x1="562.9" y1="1254.0" x2="645.5" y2="1351.8" stroke="#e41e2d" stroke-width="3.8"/>
<circle cx="604.2" cy="1302.9" r="64.0" fill="none" stroke="#e41e2d" stroke-width="3.8"/>
<defs><radialGradient id="orn" cx="0.5" cy="0.5" r="0.5"><stop offset="0" stop-color="#f9d7b8" stop-opacity="0.4"/><stop offset="0.6" stop-color="#fadcc0" stop-opacity="0.25"/><stop offset="1" stop-color="#fdefde" stop-opacity="0"/></radialGradient></defs>
<rect x="549.2" y="1268.8" width="109.9" height="72.8" fill="#fefaf5"/>
<rect x="550" y="1269.6" width="108.4" height="71.2" fill="#fdeedc"/>
<ellipse cx="611.5" cy="1312" rx="24" ry="23" fill="url(#orn)"/>
<text x="557.7" y="1281.2" font-size="4.3" font-weight="bold" fill="#333" textLength="18.4" lengthAdjust="spacingAndGlyphs">BỘ GTVT</text>
<line x1="557.7" y1="1282.5" x2="576.1" y2="1282.5" stroke="#333" stroke-width="0.5"/>
<text x="582" y="1277" font-size="3.1" font-weight="bold" fill="#444" textLength="64.7" lengthAdjust="spacingAndGlyphs">CỘNG HÒA XÃ HỘI CHỦ NGHĨA VIỆT NAM</text>
<text x="594.8" y="1280.9" font-size="3" font-style="italic" font-weight="bold" fill="#555" textLength="38.8" lengthAdjust="spacingAndGlyphs">Độc lập - Tự do - Hạnh phúc</text>
<text x="577.8" y="1292.3" font-size="9.3" font-weight="bold" fill="#ee1840" textLength="74" lengthAdjust="spacingAndGlyphs">GIẤY PHÉP LÁI XE</text>
<text x="590" y="1299.7" font-size="4" font-weight="bold" fill="#333" textLength="4.8" lengthAdjust="spacingAndGlyphs">số</text>
<text x="599" y="1299.9" font-size="5.2" font-weight="bold" fill="#c4123a" textLength="25.6" lengthAdjust="spacingAndGlyphs">AK 122456</text>
<rect x="554.9" y="1294.8" width="21.2" height="27.2" fill="#ffffff"/>
<path d="M554.9,1322 V1317 C556,1314.6 560,1313.4 563,1312.6 L565.5,1315 L568,1312.6 C571,1313.4 575,1314.6 576.1,1317 V1322 Z" fill="#5c5d60"/>
<path d="M563,1312.6 L565.5,1316.4 L568,1312.6 L566.8,1311 L564.2,1311 Z" fill="#f4f4f4"/>
<ellipse cx="565.4" cy="1307.2" rx="3.9" ry="4.9" fill="#f0c8a6"/>
<path d="M560.2,1305.4 C559.4,1299.6 562.4,1297.4 565.5,1297.4 C568.8,1297.4 571.6,1299.6 570.7,1305.4 C569.8,1303 568.6,1302.2 565.5,1302.5 C562.4,1302.2 561.2,1303 560.2,1305.4 Z" fill="#2a2a2c"/>
<text x="578.6" y="1305.9" font-size="3.1" font-style="italic" font-weight="bold" fill="#444" textLength="14.8" lengthAdjust="spacingAndGlyphs">Họ và tên:</text>
<line x1="594" y1="1305.9" x2="651" y2="1305.9" stroke="#333" stroke-width="0.6" stroke-dasharray="0.7 0.5"/>
<text x="578.6" y="1311.0" font-size="3.1" font-style="italic" font-weight="bold" fill="#444" textLength="14.8" lengthAdjust="spacingAndGlyphs">Năm sinh:</text>
<line x1="594" y1="1311.0" x2="651" y2="1311.0" stroke="#333" stroke-width="0.6" stroke-dasharray="0.7 0.5"/>
<text x="578.6" y="1316.1" font-size="3.1" font-style="italic" font-weight="bold" fill="#444" textLength="14.8" lengthAdjust="spacingAndGlyphs">Nơi cư trú:</text>
<line x1="594" y1="1316.1" x2="651" y2="1316.1" stroke="#333" stroke-width="0.6" stroke-dasharray="0.7 0.5"/>
<line x1="578.6" y1="1321.2" x2="651" y2="1321.2" stroke="#333" stroke-width="0.6" stroke-dasharray="0.7 0.5"/>
<text x="554.9" y="1327.5" font-size="3.1" font-style="italic" font-weight="bold" fill="#444" textLength="21" lengthAdjust="spacingAndGlyphs">Có giá trị đến:</text>
</g>
<g id="car">
<path d="M725.8,1343 C723.6,1339 723.6,1336 724.4,1333 L727.6,1317.5 C728,1315 729.5,1313.6 731.5,1313 L751,1306.6 C758,1302.5 765,1299 773,1297 C786,1294 799,1293.2 811,1293.3 C821,1293.4 830,1294.6 838,1297 C850,1300.6 861,1305.5 871.6,1310.8 C885,1313 898,1316 910,1319.8 C916,1321.8 921,1324 923.5,1326.5 C926,1329 926.8,1333 926.4,1337 C926,1343 925,1347 923,1350 C919,1353 912,1354.2 906,1354.4 L779,1354.6 L745,1349 C737,1347.5 729,1346 725.8,1343 Z" fill="#e5e5e7"/>
<path d="M751,1306.6 C758,1302.5 765,1299 773,1297 C786,1294 799,1293.2 811,1293.3 C821,1293.4 830,1294.6 838,1297 C850,1300.6 861,1305.5 871.6,1310.8 L860,1310 C850,1304 840,1299.6 832,1297.6 C820,1295.2 800,1295.4 786,1297.6 C772,1300 762,1304 755,1308.4 Z" fill="#ececee"/>
<path d="M725.8,1343 C723.6,1339 723.6,1336 724.6,1332.5 C732,1335 742,1336.5 747,1337 L745,1349 C737,1347.5 729,1346 725.8,1343 Z" fill="#d3d3d6"/>
<path d="M779,1350.2 L872,1350.2 L872,1354.6 L779,1354.6 Z" fill="#cfcfd2"/>
<path d="M906,1345 C912,1346 919,1346 924.6,1344 C924.2,1347 923.6,1349 923,1350 C919,1353 912,1354.2 906,1354.4 Z" fill="#d6d6d9"/>
<circle cx="762.6" cy="1349" r="19.6" fill="#d0d0d3"/>
<circle cx="888.4" cy="1348.2" r="19.6" fill="#d0d0d3"/>
<rect x="740" y="1354.7" width="170" height="16" fill="#fafbfc"/>
<path d="M766.5,1309.6 C771,1304.5 778,1300.5 787,1298.6 C794,1297.4 801,1297.3 808,1297.6 L802.6,1316.2 L768,1311.6 Z" fill="#3f3f41"/>
<path d="M811.4,1297.6 C819,1297.6 826,1298.4 832,1299.4 C842,1303 850,1307.6 856,1313.2 C857.2,1314.6 857.4,1316 857,1317.4 L806,1317.4 Z" fill="#3f3f41"/>
<path d="M751.2,1306.8 L769.6,1299.2 L770.4,1300.2 L757,1307.4 Z" fill="#47474a"/>
<path d="M838,1297 L842.6,1296.6 C853,1300.6 863,1305.4 871.6,1310.8 L862,1311.2 C854.6,1305.4 846.6,1300.8 838,1297 Z" fill="#3f3f41"/>
<rect x="768" y="1321" width="9.6" height="1.6" rx="0.8" fill="#8a8a8e"/>
<defs><linearGradient id="tl" x1="0" y1="0" x2="0" y2="1"><stop offset="0" stop-color="#f0707f"/><stop offset="0.5" stop-color="#e62e4c"/><stop offset="1" stop-color="#e0264a"/></linearGradient></defs>
<rect x="728.2" y="1319.8" width="10.2" height="7.8" rx="2.6" fill="url(#tl)"/>
<ellipse cx="915" cy="1327" rx="7" ry="1.9" fill="#f6f2ea" transform="rotate(4 915 1327)"/>
<path d="M923.6,1328.6 C925.6,1331 926,1334 925.4,1337 L923.8,1336.4 C924,1334 923.8,1331 923.6,1328.6 Z" fill="#8d8d92"/>
<circle cx="762.6" cy="1349.2" r="16.2" fill="#2e2e30"/><circle cx="762.6" cy="1349.2" r="12.799999999999999" fill="#f2f2f3"/><circle cx="762.6" cy="1349.2" r="10.799999999999999" fill="#58595b"/><line x1="762.6" y1="1349.2" x2="762.60" y2="1337.00" stroke="#f2f2f3" stroke-width="4.4"/><line x1="762.6" y1="1349.2" x2="774.20" y2="1345.43" stroke="#f2f2f3" stroke-width="4.4"/><line x1="762.6" y1="1349.2" x2="769.77" y2="1359.07" stroke="#f2f2f3" stroke-width="4.4"/><line x1="762.6" y1="1349.2" x2="755.43" y2="1359.07" stroke="#f2f2f3" stroke-width="4.4"/><line x1="762.6" y1="1349.2" x2="751.00" y2="1345.43" stroke="#f2f2f3" stroke-width="4.4"/><circle cx="762.6" cy="1349.2" r="4.2" fill="#f2f2f3"/><circle cx="762.6" cy="1349.2" r="2.4" fill="#9a9a9d"/>
<circle cx="888.4" cy="1348.2" r="16.2" fill="#2e2e30"/><circle cx="888.4" cy="1348.2" r="12.799999999999999" fill="#f2f2f3"/><circle cx="888.4" cy="1348.2" r="10.799999999999999" fill="#58595b"/><line x1="888.4" y1="1348.2" x2="888.40" y2="1336.00" stroke="#f2f2f3" stroke-width="4.4"/><line x1="888.4" y1="1348.2" x2="900.00" y2="1344.43" stroke="#f2f2f3" stroke-width="4.4"/><line x1="888.4" y1="1348.2" x2="895.57" y2="1358.07" stroke="#f2f2f3" stroke-width="4.4"/><line x1="888.4" y1="1348.2" x2="881.23" y2="1358.07" stroke="#f2f2f3" stroke-width="4.4"/><line x1="888.4" y1="1348.2" x2="876.80" y2="1344.43" stroke="#f2f2f3" stroke-width="4.4"/><circle cx="888.4" cy="1348.2" r="4.2" fill="#f2f2f3"/><circle cx="888.4" cy="1348.2" r="2.4" fill="#9a9a9d"/>
<line x1="725.2" y1="1354.8" x2="930.2" y2="1301.2" stroke="#e8a507" stroke-width="8.8"/>
<line x1="720.8" y1="1306" x2="929.2" y2="1344.4" stroke="#fbb90c" stroke-width="9.2"/>
</g>
<rect x="0" y="1469" width="1000" height="57" fill="#90a9c7"/>
<rect x="0" y="1524.8" width="1000" height="1.2" fill="#b5c5da"/>
<rect x="92.2" y="1480.6" width="30.6" height="34.2" rx="1.6" fill="#a0214d"/>
<path d="M96.2,1483.9 H118.8 V1490.2 H103.6 V1494.6 H115.4 V1500.4 H103.6 V1505 H118.8 V1511.3 H96.2 Z" fill="#a0214d" stroke="#f6e9ee" stroke-width="1.2" stroke-linejoin="miter"/>
<path d="M57,1490.5 L64,1501.0 L71,1490.5 M75.9,1501.8999999999999 V1491.6 L89.7,1500.8 V1490.5 M126.2,1490.5 L138.6,1501.8999999999999 M138.6,1490.5 L126.2,1501.8999999999999 M144.3,1501.8999999999999 V1491.6 H154 a2.6,2.6 0 0 1 0,5.2 H144.3 M162.5,1501.8999999999999 V1491.6 H172.4 a2.5,2.5 0 0 1 0,5 H162.5 M170,1496.6 L175.6,1501.8999999999999 M192.6,1491.6 H181.4 V1500.8 H192.6 M181.4,1496.1999999999998 H191.2 M210.2,1491.6 H199.6 a2.3,2.3 0 0 0 0,4.6 H207.8 a2.3,2.3 0 0 1 0,4.6 H196.8 M229.2,1491.6 H217.9 a2.3,2.3 0 0 0 0,4.6 H226.9 a2.3,2.3 0 0 1 0,4.6 H214.8" fill="none" stroke="#f1f4f9" stroke-width="2.5" stroke-linejoin="miter" stroke-linecap="butt"/>
<text x="126" y="1511.9" font-size="4.9" font-weight="bold" fill="#2b3953" letter-spacing="1.1" textLength="104.4" lengthAdjust="spacingAndGlyphs">TIN NHANH VIETNAM</text>
</svg>
</body></html>
